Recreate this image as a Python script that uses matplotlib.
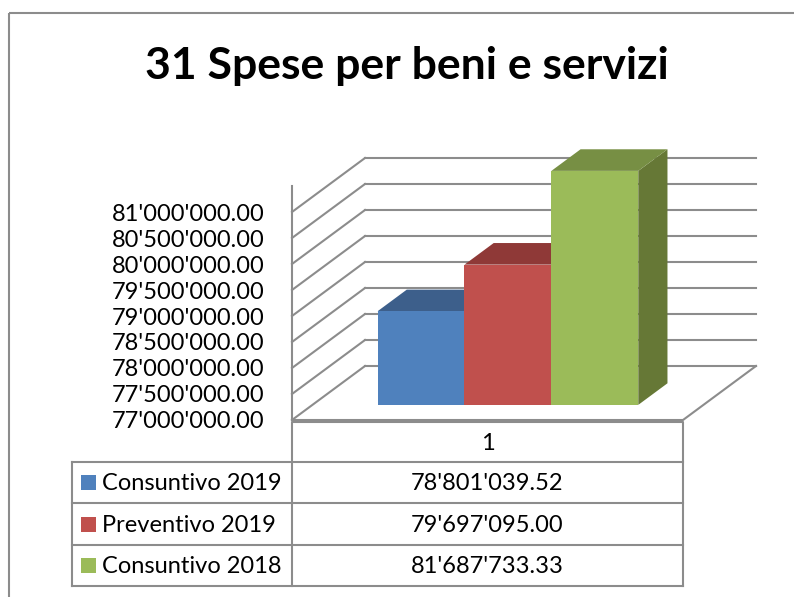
import numpy as np
import matplotlib
matplotlib.use("Agg")
import matplotlib.pyplot as plt
from matplotlib.patches import Polygon, Rectangle

# dati
titolo = "31 Spese per beni e servizi"
categorie = ["1"]
serie = ["Consuntivo 2019", "Preventivo 2019", "Consuntivo 2018"]
valori = [78801039.52, 79697095.00, 81687733.33]
colori_fronte = ["#4F81BD", "#C0504D", "#9BBB59"]
colori_sopra = ["#3D5F8B", "#8F3937", "#778F44"]
colori_lato = ["#344F73", "#773130", "#667836"]
y_min, y_max, passo = 77000000, 81500000, 500000
griglia = np.arange(y_min, 81000000 + 1, passo)

def fmt(v):
    return f"{v:,.2f}".replace(",", "'")

W, H = 794, 597
fs = 17
fig = plt.figure(figsize=(W / 100, H / 100), dpi=100)

# asse "frontale" del grafico 3D (coordinate in pixel dell'immagine)
x0, x1, yb, yt = 292, 683, 420, 186
ax = fig.add_axes([x0 / W, 1 - yb / H, (x1 - x0) / W, (yb - yt) / H])
ax.set_xlim(0, 1)
ax.set_ylim(y_min, y_max)
for s in ax.spines.values():
    s.set_visible(False)
ax.set_xticks([])
ax.set_yticks(griglia)
ax.set_yticklabels([fmt(v) for v in griglia], fontsize=fs, family="Lato")
ax.tick_params(axis="y", length=0, pad=20)
ax.patch.set_alpha(0)

# profondita' (pixel) convertita in unita' dati
bb = ax.get_window_extent()
DX = 73 / bb.width * 1.0
DY = 54 / bb.height * (y_max - y_min)

grigio = "#8C8C8C"
lw = 1.5
# parete di fondo e parete sinistra
for v in griglia:
    ax.plot([DX, 1 + DX], [v + DY, v + DY], color=grigio, lw=lw, clip_on=False, zorder=1)
    ax.plot([0, DX], [v, v + DY], color=grigio, lw=lw, clip_on=False, zorder=1)
ax.plot([0, 0], [y_min, y_max], color=grigio, lw=lw, clip_on=False, zorder=1)
ax.plot([0, 1, 1 + DX], [y_min, y_min, y_min + DY], color=grigio, lw=lw, clip_on=False, zorder=1)

# barre 3D
w = 1 / 4.5
f0, f1 = 0.28, 0.68
n = len(valori)
for i, v in enumerate(valori):
    xc = 0.5 + (i - (n - 1) / 2) * w
    a, b = xc - w / 2, xc + w / 2
    top = min(v, y_max)
    ox0, oy0 = DX * f0, DY * f0
    ox1, oy1 = DX * f1, DY * f1
    z = 3 + i
    ax.add_patch(Polygon([(b + ox0, y_min + oy0), (b + ox1, y_min + oy1),
                          (b + ox1, top + oy1), (b + ox0, top + oy0)],
                         closed=True, fc=colori_lato[i], ec="none", clip_on=False, zorder=z))
    ax.add_patch(Polygon([(a + ox0, top + oy0), (b + ox0, top + oy0),
                          (b + ox1, top + oy1), (a + ox1, top + oy1)],
                         closed=True, fc=colori_sopra[i], ec="none", clip_on=False, zorder=z))
    ax.bar(xc + ox0, top - y_min, bottom=y_min + oy0, width=w,
           color=colori_fronte[i], clip_on=False, zorder=z)

# livello in pixel: titolo, bordo e tabella dati
ov = fig.add_axes([0, 0, 1, 1], zorder=-1)
ov.set_xlim(0, W)
ov.set_ylim(H, 0)
ov.axis("off")

ov.add_patch(Rectangle((9, 13), W, H, fill=False, ec="#8C8C8C", lw=1.5))
ov.text(407, 79, titolo, ha="center", va="baseline", fontsize=32,
        fontweight="bold", family="Lato")

tl = "#8C8C8C"
righe = [462, 503, 545, 586]
ov.plot([x0, x0, x1, x1], [righe[-1], 422, 422, righe[-1]], color=tl, lw=1.5)
for y in righe:
    ov.plot([72, x1], [y, y], color=tl, lw=1.5)
ov.plot([72, 72], [righe[0], righe[-1]], color=tl, lw=1.5)
ov.text((x0 + x1) / 2, (422 + righe[0]) / 2 + 2, categorie[0], ha="center", va="center",
        fontsize=fs, family="Lato")
for i, (nome, v) in enumerate(zip(serie, valori)):
    yc = (righe[i] + righe[i + 1]) / 2
    ov.add_patch(Rectangle((81, yc - 7.5), 15, 15, fc=colori_fronte[i], ec="none"))
    ov.text(102, yc + 1, nome, ha="left", va="center", fontsize=fs, family="Lato")
    ov.text((x0 + x1) / 2, yc + 1, fmt(v), ha="center", va="center", fontsize=fs, family="Lato")

fig.savefig("out.png", dpi=100)
